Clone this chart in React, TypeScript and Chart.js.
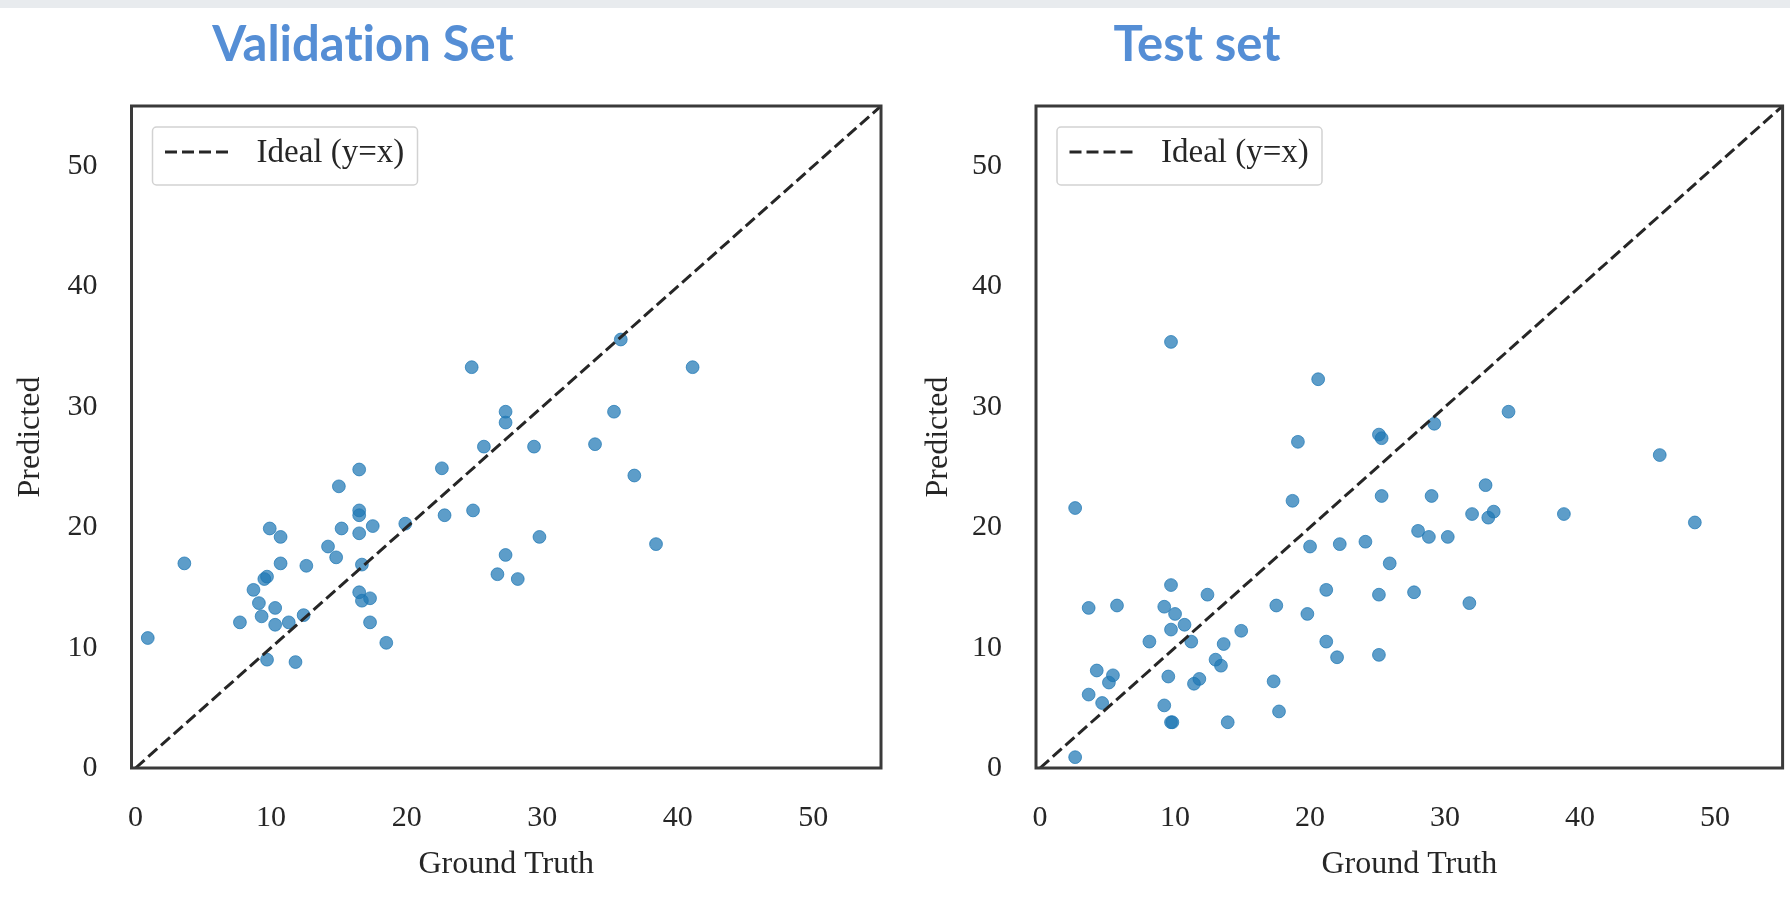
import React, { useEffect, useRef } from "react";
import { Chart, registerables } from "chart.js";

Chart.register(...registerables);

// ---------- data ----------
const X_TICKS = [0, 10, 20, 30, 40, 50];
const Y_TICKS = [0, 10, 20, 30, 40, 50];
const IDEAL = [0, 55];

const VAL_TRUE = [
  0.9, 3.6, 7.7, 8.7, 9.1, 9.3, 9.5, 9.7, 9.7, 9.9, 10.3, 10.3, 10.7, 10.7, 11.3, 11.8, 12.4, 12.6,
  14.2, 14.8, 15.0, 15.2, 16.5, 16.5, 16.5, 16.5, 16.7, 16.5, 16.7, 17.3, 17.3, 17.5, 18.5, 19.9,
  22.6, 22.8, 24.8, 24.9, 25.7, 26.7, 27.3, 27.3, 27.3, 28.2, 29.4, 29.8, 33.9, 35.3, 35.8, 36.8,
  38.4, 41.1,
];
const VAL_PRED = [
  10.8, 17.0, 12.1, 14.8, 13.7, 12.6, 15.7, 15.9, 9.0, 19.9, 13.3, 11.9, 19.2, 17.0, 12.1, 8.8, 12.7, 16.8,
  18.4, 17.5, 23.4, 19.9, 24.8, 21.4, 21.0, 19.5, 16.9, 14.6, 13.9, 14.1, 12.1, 20.1, 10.4, 20.3,
  24.9, 21.0, 33.3, 21.4, 26.7, 16.1, 29.6, 28.7, 17.7, 15.7, 26.7, 19.2, 26.9, 29.6, 35.6, 24.3,
  18.6, 33.3,
];

const TEST_TRUE = [
  2.6, 2.6, 3.6, 3.6, 4.2, 4.6, 5.1, 5.4, 5.7, 8.1, 9.2, 9.2, 9.5, 9.7, 9.7, 9.7, 9.8, 10.0, 10.7,
  11.2, 11.4, 11.8, 12.4, 13.0, 13.4, 13.6, 13.9, 14.9, 17.3, 17.5, 17.7, 18.7, 19.1, 19.8, 20.0,
  21.2, 21.2, 22.0, 22.2, 24.1, 25.1, 25.3, 25.1, 25.1, 25.3, 25.9, 27.7, 28.0, 28.8, 29.0, 29.2,
  30.2, 31.8, 32.0, 33.0, 33.2, 33.6, 34.7, 38.8, 45.9, 48.5, 9.7, 20.6,
];
const TEST_PRED = [
  0.9, 21.6, 13.3, 6.1, 8.1, 5.4, 7.1, 7.7, 13.5, 10.5, 5.2, 13.4, 7.6, 15.2, 11.5, 3.8, 3.8, 12.8, 11.9,
  10.5, 7.0, 7.4, 14.4, 9.0, 8.5, 10.3, 3.8, 11.4, 7.2, 13.5, 4.7, 22.2, 27.1, 12.8, 18.4,
  14.8, 10.5, 9.2, 18.6, 18.8, 27.7, 27.4, 14.4, 9.4, 22.6, 17.0, 14.6, 19.7, 19.2, 22.6, 28.6,
  19.2, 13.7, 21.1, 23.5, 20.8, 21.3, 29.6, 21.1, 26.0, 20.4, 35.4, 32.3,
];

const LINE_LABEL = "Ideal (y=x)";
const X_TITLE = "Ground Truth";
const Y_TITLE = "Predicted";

// ---------- styles ----------
const SERIF = '"Liberation Serif", "Times New Roman", serif';
const TEXT = "#262626";
const FRAME = "#3a3a3a";
const DOT = "rgba(31,119,180,0.72)";
const CANVAS_H = 903;

const frameLegendPlugin = {
  id: "frameLegend",
  afterDatasetsDraw(chart: any) {
    const { ctx, chartArea: a } = chart;
    ctx.save();
    // frame
    ctx.strokeStyle = FRAME;
    ctx.lineWidth = 3;
    ctx.strokeRect(a.left, a.top, a.right - a.left, a.bottom - a.top);
    // legend box
    const bx = a.left + 21;
    const by = a.top + 21;
    const bw = 265;
    const bh = 58;
    ctx.beginPath();
    if (ctx.roundRect) ctx.roundRect(bx, by, bw, bh, 4);
    else ctx.rect(bx, by, bw, bh);
    ctx.fillStyle = "rgba(255,255,255,0.85)";
    ctx.fill();
    ctx.strokeStyle = "#d2d2d2";
    ctx.lineWidth = 1.5;
    ctx.stroke();
    const ds = chart.data.datasets.find((d: any) => d.type === "line");
    ctx.setLineDash(ds.borderDash);
    ctx.lineWidth = ds.borderWidth;
    ctx.strokeStyle = ds.borderColor;
    ctx.beginPath();
    ctx.moveTo(bx + 12.5, by + 25);
    ctx.lineTo(bx + 75.5, by + 25);
    ctx.stroke();
    ctx.setLineDash([]);
    ctx.font = `33px ${SERIF}`;
    ctx.fillStyle = TEXT;
    ctx.textBaseline = "alphabetic";
    ctx.textAlign = "left";
    ctx.fillText(ds.label, bx + 104, by + 35);
    ctx.restore();
  },
};

type PanelProps = {
  left: number;
  width: number;
  trueVals: number[];
  predVals: number[];
  yAxisWidth: number;
  yTitlePad: number;
  rightPad: number;
};

function ScatterPanel({ left, width, trueVals, predVals, yAxisWidth, yTitlePad, rightPad }: PanelProps) {
  const ref = useRef<HTMLCanvasElement>(null);

  useEffect(() => {
    if (!ref.current) return;
    const points = trueVals.map((x, i) => ({ x, y: predVals[i] }));
    const chart = new Chart(ref.current, {
      type: "scatter",
      data: {
        datasets: [
          {
            type: "line",
            label: LINE_LABEL,
            data: IDEAL.map((v) => ({ x: v, y: v })),
            borderColor: "#262626",
            borderWidth: 3,
            borderDash: [12, 5],
            pointRadius: 0,
            showLine: true,
            fill: false,
            order: 0,
          } as any,
          {
            label: "Predictions",
            data: points,
            backgroundColor: DOT,
            borderColor: DOT,
            borderWidth: 1,
            pointRadius: 6.4,
            pointHoverRadius: 6.4,
            order: 1,
          },
        ],
      },
      options: {
        responsive: false,
        animation: false,
        devicePixelRatio: 1,
        layout: { padding: { top: 106, right: rightPad, bottom: 0, left: 0 } },
        plugins: {
          legend: { display: false },
          tooltip: { enabled: false },
        },
        scales: {
          x: {
            type: "linear",
            min: -0.3,
            max: 55,
            grid: { display: false, drawTicks: false },
            border: { display: false },
            afterBuildTicks: (s: any) => {
              s.ticks = X_TICKS.map((v) => ({ value: v }));
            },
            afterFit: (s: any) => {
              s.height = CANVAS_H - 768;
            },
            ticks: {
              padding: 32,
              maxRotation: 0,
              autoSkip: false,
              color: TEXT,
              font: { family: SERIF, size: 30 },
            },
            title: {
              display: true,
              text: X_TITLE,
              color: TEXT,
              font: { family: SERIF, size: 32 },
              padding: { top: 0, bottom: 19 },
            },
          },
          y: {
            type: "linear",
            min: 0,
            max: 55,
            grid: { display: false, drawTicks: false },
            border: { display: false },
            afterBuildTicks: (s: any) => {
              s.ticks = Y_TICKS.map((v) => ({ value: v }));
            },
            afterFit: (s: any) => {
              s.width = yAxisWidth;
            },
            ticks: {
              padding: 34,
              autoSkip: false,
              color: TEXT,
              font: { family: SERIF, size: 30 },
            },
            title: {
              display: true,
              text: Y_TITLE,
              color: TEXT,
              font: { family: SERIF, size: 32 },
              padding: { top: yTitlePad, bottom: 0 },
            },
          },
        },
      },
      plugins: [frameLegendPlugin],
    } as any);
    return () => chart.destroy();
  }, []);

  return (
    <canvas
      ref={ref}
      width={width}
      height={CANVAS_H}
      style={{ position: "absolute", left, top: 0, width, height: CANVAS_H, display: "block" }}
    />
  );
}

const titleStyle = (center: number): React.CSSProperties => ({
  position: "absolute",
  left: center - 300,
  width: 600,
  top: 18,
  textAlign: "center",
  fontFamily: "Lato, 'Open Sans', sans-serif",
  fontWeight: 700,
  fontSize: 49,
  lineHeight: "49px",
  color: "#558ED5",
  whiteSpace: "nowrap",
  fontVariantLigatures: "none",
  fontFeatureSettings: '"liga" 0, "clig" 0',
});

export default function App() {
  return (
    <div
      style={{
        position: "absolute",
        left: 0,
        top: 0,
        width: 1790,
        height: 903,
        overflow: "hidden",
        background: "#ffffff",
      }}
    >
      <div style={{ position: "absolute", left: 0, top: 0, width: 1790, height: 8, background: "#e8ebee" }} />
      <ScatterPanel
        left={0}
        width={900}
        trueVals={VAL_TRUE}
        predVals={VAL_PRED}
        yAxisWidth={131.5}
        yTitlePad={11}
        rightPad={19}
      />
      <ScatterPanel
        left={900}
        width={890}
        trueVals={TEST_TRUE}
        predVals={TEST_PRED}
        yAxisWidth={136}
        yTitlePad={19}
        rightPad={5}
      />
      <div style={titleStyle(363)}>Validation Set</div>
      <div style={titleStyle(1197)}>Test set</div>
    </div>
  );
}
